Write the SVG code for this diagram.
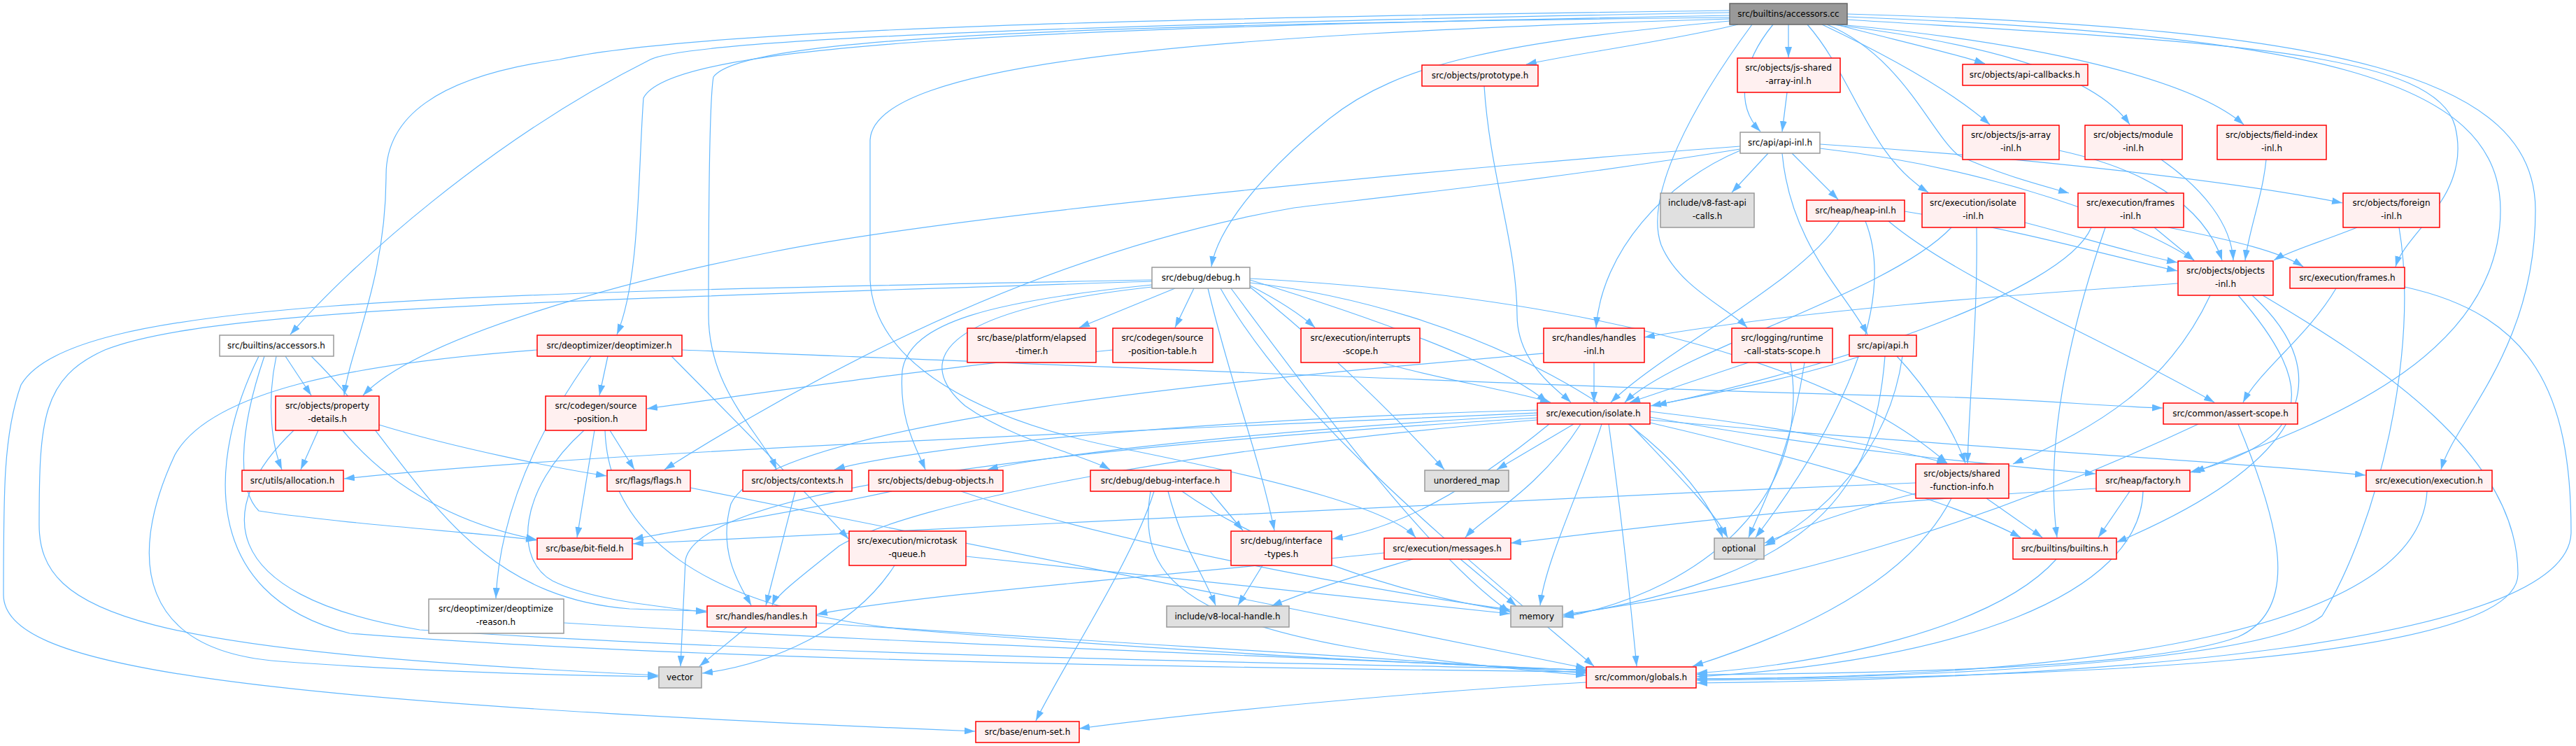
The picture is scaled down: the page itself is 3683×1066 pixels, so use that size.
<svg xmlns="http://www.w3.org/2000/svg" width="3683" height="1066" viewBox="0 0 3683 1066">
<style>
.e{fill:none;stroke:#63B8FF;stroke-width:1.2}
.n rect{stroke-width:1.5}
.r rect{fill:#FFF0F0;stroke:#FF0000}
.w rect{fill:#FFFFFF;stroke:#999999}
.g rect{fill:#E0E0E0;stroke:#999999}
.root rect{fill:#999999;stroke:#666666}
text{font-family:"DejaVu Sans","Noto Sans",sans-serif;font-size:12px;text-anchor:middle;fill:#000000}
</style>
<defs>
<marker id="ah" viewBox="0 0 15 10" refX="15" refY="5" markerWidth="15" markerHeight="10" markerUnits="userSpaceOnUse" orient="auto" preserveAspectRatio="none"><path d="M0,0L15,5L0,10z" fill="#63B8FF"/></marker>
</defs>
<rect width="3683" height="1066" fill="#FFFFFF"/>
<g id="edges" marker-end="url(#ah)">
<path class="e" marker-end="url(#ah)" d="M2485,35 C2380,60 2260,75 2182,92"/>
<path class="e" marker-end="url(#ah)" d="M2557,35 L2557,82"/>
<path class="e" marker-end="url(#ah)" d="M2625,35 C2700,55 2790,75 2838,91"/>
<path class="e" marker-end="url(#ah)" d="M2535,35 C2490,90 2480,150 2517,188"/>
<path class="e" marker-end="url(#ah)" d="M2605,35 C2700,80 2790,130 2845,178"/>
<path class="e" marker-end="url(#ah)" d="M2620,35 C2820,60 2990,100 3045,178"/>
<path class="e" marker-end="url(#ah)" d="M2630,35 C2900,60 3130,110 3208,178"/>
<path class="e" marker-end="url(#ah)" d="M2584,35 C2650,110 2670,220 2757,275"/>
<path class="e" marker-end="url(#ah)" d="M2612,35 C2720,80 2760,190 2800,222 C2860,250 2920,265 2958,276"/>
<path class="e" marker-end="url(#ah)" d="M2641,28 C3150,60 3480,70 3510,180 C3535,280 3440,330 3425,381"/>
<path class="e" marker-end="url(#ah)" d="M2641,24 C3300,50 3575,110 3575,300 C3575,520 3300,610 3137,675"/>
<path class="e" marker-end="url(#ah)" d="M2641,20 C3350,40 3625,110 3625,300 C3625,500 3510,600 3490,671"/>
<path class="e" marker-end="url(#ah)" d="M2505,35 C2420,150 2350,280 2375,350 C2400,410 2470,440 2498,468"/>
<path class="e" marker-end="url(#ah)" d="M2473,30 C2150,60 2000,90 1900,170 C1800,250 1740,330 1732,381"/>
<path class="e" marker-end="url(#ah)" d="M2473,18 C1800,30 1000,50 930,85 C700,200 500,380 415,478"/>
<path class="e" marker-end="url(#ah)" d="M2473,15 C1700,25 1000,40 800,85 C620,110 552,170 552,250 C552,400 500,500 492,565"/>
<path class="e" marker-end="url(#ah)" d="M2473,22 C1500,40 960,60 920,140 C912,250 915,400 882,478"/>
<path class="e" marker-end="url(#ah)" d="M2473,25 C1500,35 1060,55 1020,110 C1013,150 1013,350 1013,450 C1013,560 1090,620 1110,671"/>
<path class="e" marker-end="url(#ah)" d="M2473,27 C1700,50 1250,90 1244,200 L1244,400 C1250,520 1400,600 1600,640 C1850,690 1990,730 2024,768"/>
<path class="e" marker-end="url(#ah)" d="M2555,132 L2548,188"/>
<path class="e" marker-end="url(#ah)" d="M2528,219 L2476,275"/>
<path class="e" marker-end="url(#ah)" d="M2562,219 L2628,285"/>
<path class="e" marker-end="url(#ah)" d="M2548,219 C2560,350 2640,420 2670,478"/>
<path class="e" marker-end="url(#ah)" d="M2488,215 C2380,260 2290,360 2282,468"/>
<path class="e" marker-end="url(#ah)" d="M2602,212 C2850,240 3060,320 3137,372"/>
<path class="e" marker-end="url(#ah)" d="M2602,206 C2900,225 3200,260 3349,290"/>
<path class="e" marker-end="url(#ah)" d="M2488,209 C2200,230 1400,300 1104,360 C900,400 600,480 519,565"/>
<path class="e" marker-end="url(#ah)" d="M2488,213 C2200,260 1900,290 1850,297 C1600,340 1300,450 950,671"/>
<path class="e" marker-end="url(#ah)" d="M2723,302 C2900,330 3050,375 3113,387"/>
<path class="e" marker-end="url(#ah)" d="M2630,316 C2580,400 2380,500 2303,575"/>
<path class="e" marker-end="url(#ah)" d="M2700,316 C2800,400 3000,480 3166,575"/>
<path class="e" marker-end="url(#ah)" d="M2667,316 C2720,450 2600,650 2510,768"/>
<path class="e" marker-end="url(#ah)" d="M2790,325 C2700,420 2400,500 2323,575"/>
<path class="e" marker-end="url(#ah)" d="M2895,318 C2980,340 3060,365 3113,375"/>
<path class="e" marker-end="url(#ah)" d="M2826,325 C2828,450 2816,560 2813,662"/>
<path class="e" marker-end="url(#ah)" d="M3100,325 C3200,345 3260,360 3293,381"/>
<path class="e" marker-end="url(#ah)" d="M3080,325 L3137,372"/>
<path class="e" marker-end="url(#ah)" d="M2990,325 C2950,420 2600,530 2368,579"/>
<path class="e" marker-end="url(#ah)" d="M3010,325 C2950,500 2925,650 2941,768"/>
<path class="e" marker-end="url(#ah)" d="M2944,215 C3060,240 3150,290 3177,372"/>
<path class="e" marker-end="url(#ah)" d="M3090,228 C3150,270 3190,320 3193,372"/>
<path class="e" marker-end="url(#ah)" d="M3240,228 C3235,280 3215,330 3210,372"/>
<path class="e" marker-end="url(#ah)" d="M3370,325 C3320,345 3270,360 3251,372"/>
<path class="e" marker-end="url(#ah)" d="M3430,325 C3460,500 3400,750 3320,880 C3230,950 2700,970 2426,970"/>
<path class="e" marker-end="url(#ah)" d="M3114,405 C2900,420 2600,440 2351,482"/>
<path class="e" marker-end="url(#ah)" d="M3160,422 C3100,550 3000,610 2878,663"/>
<path class="e" marker-end="url(#ah)" d="M3200,422 C3320,560 3300,630 3131,675"/>
<path class="e" marker-end="url(#ah)" d="M3220,422 C3370,560 3250,680 3026,775"/>
<path class="e" marker-end="url(#ah)" d="M3235,422 C3400,520 3600,650 3600,820 C3600,950 2900,968 2426,972"/>
<path class="e" marker-end="url(#ah)" d="M3340,412 C3300,480 3230,530 3207,575"/>
<path class="e" marker-end="url(#ah)" d="M3438,410 C3620,450 3676,560 3676,760 C3676,920 3000,970 2426,976"/>
<path class="e" marker-end="url(#ah)" d="M3200,606 C3260,750 3290,870 3200,910 C3080,955 2700,962 2426,964"/>
<path class="e" marker-end="url(#ah)" d="M3143,606 C2900,720 2600,830 2235,878"/>
<path class="e" marker-end="url(#ah)" d="M3045,702 L3000,768"/>
<path class="e" marker-end="url(#ah)" d="M3064,702 C3060,850 2800,945 2426,967"/>
<path class="e" marker-end="url(#ah)" d="M2997,698 C2600,720 2300,760 2160,776"/>
<path class="e" marker-end="url(#ah)" d="M3470,702 C3460,900 3000,968 2426,970"/>
<path class="e" marker-end="url(#ah)" d="M2840,712 L2920,768"/>
<path class="e" marker-end="url(#ah)" d="M2739,690 C2000,720 1200,760 905,777"/>
<path class="e" marker-end="url(#ah)" d="M2739,705 C2620,735 2560,760 2523,776"/>
<path class="e" marker-end="url(#ah)" d="M2790,712 C2720,850 2520,920 2420,952"/>
<path class="e" marker-end="url(#ah)" d="M2660,509 C2550,545 2420,568 2360,580"/>
<path class="e" marker-end="url(#ah)" d="M2695,509 C2680,700 2600,820 2235,880"/>
<path class="e" marker-end="url(#ah)" d="M2712,509 C2760,560 2795,620 2810,662"/>
<path class="e" marker-end="url(#ah)" d="M2720,509 C2700,650 2600,740 2523,780"/>
<path class="e" marker-end="url(#ah)" d="M2500,518 C2420,545 2360,565 2330,575"/>
<path class="e" marker-end="url(#ah)" d="M2560,518 C2590,700 2450,840 2235,882"/>
<path class="e" marker-end="url(#ah)" d="M2580,518 C2560,650 2520,720 2500,768"/>
<path class="e" marker-end="url(#ah)" d="M2279,518 L2279,575"/>
<path class="e" marker-end="url(#ah)" d="M2207,505 C1800,540 1100,600 1045,720 C1025,790 1060,840 1074,865"/>
<path class="e" marker-end="url(#ah)" d="M1975,518 C2050,540 2170,560 2217,575"/>
<path class="e" marker-end="url(#ah)" d="M2122,123 C2130,250 2169,350 2169,450 C2169,520 2230,560 2246,575"/>
<path class="e" marker-end="url(#ah)" d="M2250,606 L2140,671"/>
<path class="e" marker-end="url(#ah)" d="M2198,590 C1500,620 800,650 492,684"/>
<path class="e" marker-end="url(#ah)" d="M2198,586 C1700,600 1300,640 1193,671"/>
<path class="e" marker-end="url(#ah)" d="M2198,593 C1800,615 1500,650 1412,671"/>
<path class="e" marker-end="url(#ah)" d="M2198,600 C1700,640 1300,720 1200,780 C1150,820 1110,850 1104,865"/>
<path class="e" marker-end="url(#ah)" d="M2198,597 C1500,640 1000,700 980,800 L973,952"/>
<path class="e" marker-end="url(#ah)" d="M2290,606 C2260,700 2210,800 2202,865"/>
<path class="e" marker-end="url(#ah)" d="M2300,606 C2320,750 2330,850 2340,952"/>
<path class="e" marker-end="url(#ah)" d="M2330,606 C2400,680 2450,730 2470,768"/>
<path class="e" marker-end="url(#ah)" d="M2260,606 C2200,700 2120,740 2095,768"/>
<path class="e" marker-end="url(#ah)" d="M2359,588 C2550,610 2700,640 2784,662"/>
<path class="e" marker-end="url(#ah)" d="M2359,596 C2600,640 2850,665 2996,677"/>
<path class="e" marker-end="url(#ah)" d="M2359,600 C2800,640 3200,660 3382,679"/>
<path class="e" marker-end="url(#ah)" d="M2359,604 C2600,660 2800,720 2889,768"/>
<path class="e" marker-end="url(#ah)" d="M2215,606 C2100,700 2000,755 1905,770"/>
<path class="e" marker-end="url(#ah)" d="M869,509 L857,565"/>
<path class="e" marker-end="url(#ah)" d="M845,509 C780,600 715,720 709,855"/>
<path class="e" marker-end="url(#ah)" d="M768,500 C500,520 300,560 250,650 C180,800 200,930 400,945 C600,960 800,965 941,967"/>
<path class="e" marker-end="url(#ah)" d="M975,500 C1500,520 2400,560 2770,567 C2900,570 3000,580 3092,583"/>
<path class="e" marker-end="url(#ah)" d="M960,509 C1050,600 1150,700 1213,770"/>
<path class="e" marker-end="url(#ah)" d="M1680,412 L1543,468"/>
<path class="e" marker-end="url(#ah)" d="M1707,412 L1680,468"/>
<path class="e" marker-end="url(#ah)" d="M1787,408 C1830,430 1860,450 1880,468"/>
<path class="e" marker-end="url(#ah)" d="M1647,407 C1420,430 1300,460 1290,530 C1285,600 1310,640 1323,671"/>
<path class="e" marker-end="url(#ah)" d="M1647,410 C1330,445 1310,520 1380,580 C1450,630 1550,650 1587,671"/>
<path class="e" marker-end="url(#ah)" d="M1787,410 C1900,500 2000,600 2065,671"/>
<path class="e" marker-end="url(#ah)" d="M1787,400 C1950,450 2150,520 2212,575"/>
<path class="e" marker-end="url(#ah)" d="M1787,398 C2200,420 2600,500 2784,662"/>
<path class="e" marker-end="url(#ah)" d="M1727,412 C1760,550 1800,650 1822,758"/>
<path class="e" marker-end="url(#ah)" d="M1745,412 C1850,600 2100,800 2279,952"/>
<path class="e" marker-end="url(#ah)" d="M1787,404 C2100,440 2400,600 2463,768"/>
<path class="e" marker-end="url(#ah)" d="M1760,412 C1900,600 2050,800 2159,875"/>
<path class="e" marker-end="url(#ah)" d="M1647,402 C800,430 300,440 150,500 C60,540 56,600 56,750 C56,880 200,930 941,965"/>
<path class="e" marker-end="url(#ah)" d="M1647,400 C600,420 100,430 30,550 C5,620 5,700 5,850 C5,950 300,1000 1394,1045"/>
<path class="e" marker-end="url(#ah)" d="M1650,702 C1620,800 1520,950 1481,1030"/>
<path class="e" marker-end="url(#ah)" d="M1730,702 L1777,758"/>
<path class="e" marker-end="url(#ah)" d="M1670,702 C1690,780 1720,820 1738,865"/>
<path class="e" marker-end="url(#ah)" d="M1645,702 C1620,850 1720,920 2268,965"/>
<path class="e" marker-end="url(#ah)" d="M1690,702 C1800,780 2000,850 2159,873"/>
<path class="e" marker-end="url(#ah)" d="M1805,808 L1770,865"/>
<path class="e" marker-end="url(#ah)" d="M1275,702 C1100,740 950,760 905,771"/>
<path class="e" marker-end="url(#ah)" d="M1374,702 C1600,780 2000,850 2159,871"/>
<path class="e" marker-end="url(#ah)" d="M1137,702 L1095,865"/>
<path class="e" marker-end="url(#ah)" d="M1279,808 C1220,900 1100,950 1004,962"/>
<path class="e" marker-end="url(#ah)" d="M1381,795 C1700,830 2000,860 2159,877"/>
<path class="e" marker-end="url(#ah)" d="M2088,799 L2168,866"/>
<path class="e" marker-end="url(#ah)" d="M1979,790 C1700,820 1300,850 1168,878"/>
<path class="e" marker-end="url(#ah)" d="M2020,799 C1950,820 1880,840 1818,866"/>
<path class="e" marker-end="url(#ah)" d="M1068,896 L1000,952"/>
<path class="e" marker-end="url(#ah)" d="M1167,890 C1600,920 2000,940 2268,962"/>
<path class="e" marker-end="url(#ah)" d="M850,615 L825,768"/>
<path class="e" marker-end="url(#ah)" d="M835,615 C740,700 735,800 790,830 C850,860 960,868 1010,875"/>
<path class="e" marker-end="url(#ah)" d="M865,615 C870,760 1000,870 1300,900 C1800,940 2100,950 2268,958"/>
<path class="e" marker-end="url(#ah)" d="M872,615 L907,671"/>
<path class="e" marker-end="url(#ah)" d="M1591,500 C1300,530 1100,560 925,584"/>
<path class="e" marker-end="url(#ah)" d="M455,615 L430,671"/>
<path class="e" marker-end="url(#ah)" d="M542,607 C650,640 800,670 867,680"/>
<path class="e" marker-end="url(#ah)" d="M490,615 C560,700 660,750 767,771"/>
<path class="e" marker-end="url(#ah)" d="M420,615 C310,720 300,850 600,900 C1200,940 2000,950 2268,957"/>
<path class="e" marker-end="url(#ah)" d="M395,509 C380,580 390,640 403,671"/>
<path class="e" marker-end="url(#ah)" d="M408,509 L445,565"/>
<path class="e" marker-end="url(#ah)" d="M378,509 C340,620 340,700 370,730 C500,750 700,762 767,772"/>
<path class="e" marker-end="url(#ah)" d="M370,509 C300,650 280,850 500,905 C1000,945 1800,955 2268,960"/>
<path class="e" marker-end="url(#ah)" d="M445,509 C590,650 650,850 900,870 C960,872 990,873 1010,873"/>
<path class="e" marker-end="url(#ah)" d="M2940,799 C2850,900 2600,950 2426,962"/>
<path class="e" marker-end="url(#ah)" d="M806,890 C1300,920 1900,940 2268,958"/>
<path class="e" marker-end="url(#ah)" d="M2268,975 C2000,990 1700,1020 1543,1041"/>
<path class="e" marker-end="url(#ah)" d="M987,697 C1300,760 1900,880 2268,955"/>
</g>
<g id="nodes">
<g id="n_accessors_cc" class="n root"><rect x="2473" y="5" width="168" height="30"/><text x="2557" y="24">src/builtins/accessors.cc</text></g>
<g id="n_prototype" class="n r"><rect x="2033" y="93" width="166" height="30"/><text x="2116" y="112">src/objects/prototype.h</text></g>
<g id="n_js_shared_array" class="n r"><rect x="2484" y="83" width="147" height="49"/><text x="2557" y="101">src/objects/js-shared</text><text x="2557" y="120">-array-inl.h</text></g>
<g id="n_api_callbacks" class="n r"><rect x="2806" y="92" width="179" height="30"/><text x="2895" y="111">src/objects/api-callbacks.h</text></g>
<g id="n_api_inl" class="n w"><rect x="2488" y="189" width="114" height="30"/><text x="2545" y="208">src/api/api-inl.h</text></g>
<g id="n_js_array_inl" class="n r"><rect x="2806" y="179" width="138" height="49"/><text x="2875" y="197">src/objects/js-array</text><text x="2875" y="216">-inl.h</text></g>
<g id="n_module_inl" class="n r"><rect x="2981" y="179" width="139" height="49"/><text x="3050" y="197">src/objects/module</text><text x="3050" y="216">-inl.h</text></g>
<g id="n_field_index_inl" class="n r"><rect x="3170" y="179" width="156" height="49"/><text x="3248" y="197">src/objects/field-index</text><text x="3248" y="216">-inl.h</text></g>
<g id="n_fast_api" class="n g"><rect x="2374" y="276" width="134" height="49"/><text x="2441" y="294">include/v8-fast-api</text><text x="2441" y="313">-calls.h</text></g>
<g id="n_heap_inl" class="n r"><rect x="2583" y="286" width="140" height="30"/><text x="2653" y="305">src/heap/heap-inl.h</text></g>
<g id="n_isolate_inl" class="n r"><rect x="2748" y="276" width="147" height="49"/><text x="2821" y="294">src/execution/isolate</text><text x="2821" y="313">-inl.h</text></g>
<g id="n_frames_inl" class="n r"><rect x="2971" y="276" width="151" height="49"/><text x="3046" y="294">src/execution/frames</text><text x="3046" y="313">-inl.h</text></g>
<g id="n_foreign_inl" class="n r"><rect x="3350" y="276" width="138" height="49"/><text x="3419" y="294">src/objects/foreign</text><text x="3419" y="313">-inl.h</text></g>
<g id="n_debug" class="n w"><rect x="1647" y="382" width="140" height="30"/><text x="1717" y="401">src/debug/debug.h</text></g>
<g id="n_objects_inl" class="n r"><rect x="3114" y="373" width="136" height="49"/><text x="3182" y="391">src/objects/objects</text><text x="3182" y="410">-inl.h</text></g>
<g id="n_frames" class="n r"><rect x="3274" y="382" width="164" height="30"/><text x="3356" y="401">src/execution/frames.h</text></g>
<g id="n_accessors_h" class="n w"><rect x="314" y="479" width="163" height="30"/><text x="395" y="498">src/builtins/accessors.h</text></g>
<g id="n_deoptimizer" class="n r"><rect x="768" y="479" width="207" height="30"/><text x="871" y="498">src/deoptimizer/deoptimizer.h</text></g>
<g id="n_elapsed_timer" class="n r"><rect x="1383" y="469" width="184" height="49"/><text x="1475" y="487">src/base/platform/elapsed</text><text x="1475" y="506">-timer.h</text></g>
<g id="n_spt" class="n r"><rect x="1591" y="469" width="143" height="49"/><text x="1662" y="487">src/codegen/source</text><text x="1662" y="506">-position-table.h</text></g>
<g id="n_interrupts" class="n r"><rect x="1860" y="469" width="170" height="49"/><text x="1945" y="487">src/execution/interrupts</text><text x="1945" y="506">-scope.h</text></g>
<g id="n_handles_inl" class="n r"><rect x="2207" y="469" width="144" height="49"/><text x="2279" y="487">src/handles/handles</text><text x="2279" y="506">-inl.h</text></g>
<g id="n_rcs" class="n r"><rect x="2476" y="469" width="144" height="49"/><text x="2548" y="487">src/logging/runtime</text><text x="2548" y="506">-call-stats-scope.h</text></g>
<g id="n_api" class="n r"><rect x="2644" y="479" width="96" height="30"/><text x="2692" y="498">src/api/api.h</text></g>
<g id="n_property_details" class="n r"><rect x="394" y="566" width="148" height="49"/><text x="468" y="584">src/objects/property</text><text x="468" y="603">-details.h</text></g>
<g id="n_source_position" class="n r"><rect x="780" y="566" width="144" height="49"/><text x="852" y="584">src/codegen/source</text><text x="852" y="603">-position.h</text></g>
<g id="n_isolate" class="n r"><rect x="2198" y="576" width="161" height="30"/><text x="2278" y="595">src/execution/isolate.h</text></g>
<g id="n_assert_scope" class="n r"><rect x="3093" y="576" width="192" height="30"/><text x="3189" y="595">src/common/assert-scope.h</text></g>
<g id="n_allocation" class="n r"><rect x="346" y="672" width="145" height="30"/><text x="418" y="691">src/utils/allocation.h</text></g>
<g id="n_flags" class="n r"><rect x="868" y="672" width="119" height="30"/><text x="927" y="691">src/flags/flags.h</text></g>
<g id="n_contexts" class="n r"><rect x="1062" y="672" width="156" height="30"/><text x="1140" y="691">src/objects/contexts.h</text></g>
<g id="n_debug_objects" class="n r"><rect x="1242" y="672" width="192" height="30"/><text x="1338" y="691">src/objects/debug-objects.h</text></g>
<g id="n_debug_interface" class="n r"><rect x="1559" y="672" width="201" height="30"/><text x="1659" y="691">src/debug/debug-interface.h</text></g>
<g id="n_unordered_map" class="n g"><rect x="2037" y="672" width="120" height="30"/><text x="2097" y="691">unordered_map</text></g>
<g id="n_sfi" class="n r"><rect x="2739" y="663" width="133" height="49"/><text x="2805" y="681">src/objects/shared</text><text x="2805" y="700">-function-info.h</text></g>
<g id="n_factory" class="n r"><rect x="2997" y="672" width="134" height="30"/><text x="3064" y="691">src/heap/factory.h</text></g>
<g id="n_execution" class="n r"><rect x="3383" y="672" width="180" height="30"/><text x="3473" y="691">src/execution/execution.h</text></g>
<g id="n_bit_field" class="n r"><rect x="768" y="769" width="136" height="30"/><text x="836" y="788">src/base/bit-field.h</text></g>
<g id="n_microtask" class="n r"><rect x="1214" y="759" width="167" height="49"/><text x="1297" y="777">src/execution/microtask</text><text x="1297" y="796">-queue.h</text></g>
<g id="n_interface_types" class="n r"><rect x="1760" y="759" width="144" height="49"/><text x="1832" y="777">src/debug/interface</text><text x="1832" y="796">-types.h</text></g>
<g id="n_messages" class="n r"><rect x="1979" y="769" width="181" height="30"/><text x="2069" y="788">src/execution/messages.h</text></g>
<g id="n_optional" class="n g"><rect x="2451" y="769" width="71" height="30"/><text x="2486" y="788">optional</text></g>
<g id="n_builtins" class="n r"><rect x="2878" y="769" width="148" height="30"/><text x="2952" y="788">src/builtins/builtins.h</text></g>
<g id="n_deopt_reason" class="n w"><rect x="613" y="856" width="193" height="49"/><text x="709" y="874">src/deoptimizer/deoptimize</text><text x="709" y="893">-reason.h</text></g>
<g id="n_handles" class="n r"><rect x="1011" y="866" width="156" height="30"/><text x="1089" y="885">src/handles/handles.h</text></g>
<g id="n_local_handle" class="n g"><rect x="1668" y="866" width="175" height="30"/><text x="1755" y="885">include/v8-local-handle.h</text></g>
<g id="n_memory" class="n g"><rect x="2160" y="866" width="74" height="30"/><text x="2197" y="885">memory</text></g>
<g id="n_vector" class="n g"><rect x="942" y="953" width="61" height="30"/><text x="972" y="972">vector</text></g>
<g id="n_globals" class="n r"><rect x="2268" y="953" width="157" height="30"/><text x="2346" y="972">src/common/globals.h</text></g>
<g id="n_enum_set" class="n r"><rect x="1395" y="1031" width="148" height="30"/><text x="1469" y="1050">src/base/enum-set.h</text></g>
</g>
</svg>
